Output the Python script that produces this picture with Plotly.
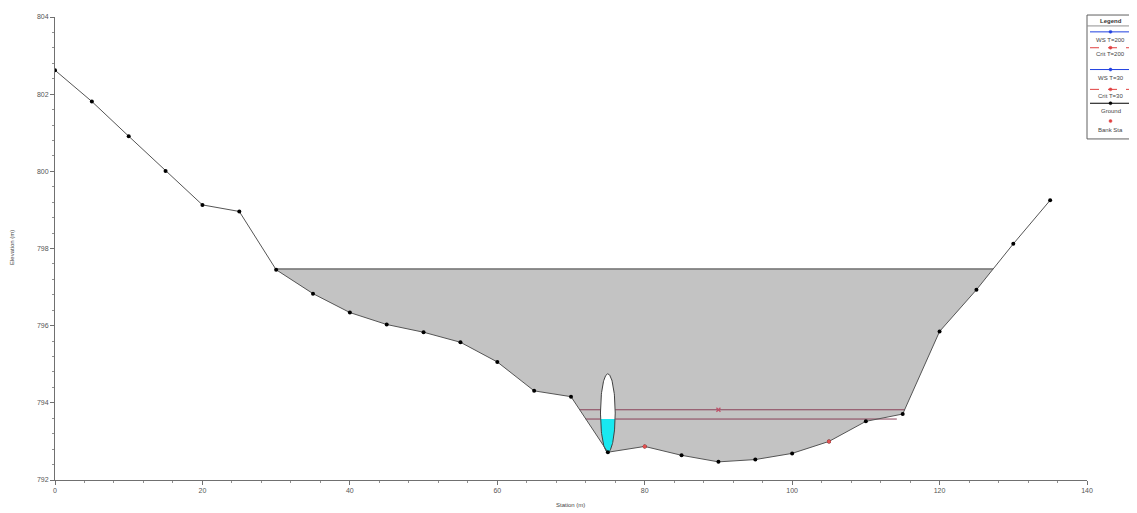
import numpy as np
import plotly.graph_objects as go

# ---------------- data ----------------
station = [0, 5, 10, 15, 20, 25, 30, 35, 40, 45, 50, 55, 60, 65, 70,
           75, 80, 85, 90, 95, 100, 105, 110, 115, 120, 125, 130, 135]
ground = [802.62, 801.81, 800.91, 800.01, 799.13, 798.96, 797.45, 796.83,
          796.34, 796.03, 795.83, 795.57, 795.06, 794.31, 794.16, 792.72,
          792.87, 792.64, 792.47, 792.53, 792.69, 793.00, 793.52, 793.71,
          795.85, 796.93, 798.12, 799.25]
bank_stations = [80, 105]

ws_t200 = 797.47

line_names = ["Crit T=200", "WS T=30"]
line_elev = [793.82, 793.58]
line_left = [71.2, 72.0]
line_right = [115.3, 114.2]
crit_marker_station = [90]
crit_marker_elev = [793.82]

# lens-shaped obstruction at the thalweg
lens_station = 75.0
lens_half_width = 1.0
lens_top = 794.75
lens_bottom = 792.72
lens_water = 793.58

x_ticks = [0, 20, 40, 60, 80, 100, 120, 140]
y_ticks = [792, 794, 796, 798, 800, 802, 804]

legend_names = ["WS T=200", "Crit T=200", "WS T=30", "Crit T=30", "Ground", "Bank Sta"]

# ---------------- figure ----------------
OFF = 8  # page body margin
W, H = 1137 - OFF, 513 - OFF
L, T = 55 - OFF, 13 - OFF
PW, PH = 1032, 467
R, B = W - L - PW, H - T - PH


def px(xp):
    return (xp - OFF - L) / PW


def py(yp):
    return (T + PH - (yp - OFF)) / PH


fig = go.Figure()

# wetted area under WS T=200
gx = np.array(station, float)
gy = np.array(ground, float)
poly_x, poly_y = [], []
for i in range(len(gx) - 1):
    x0, y0, x1, y1 = gx[i], gy[i], gx[i + 1], gy[i + 1]
    if y0 <= ws_t200:
        poly_x.append(x0); poly_y.append(y0)
    if (y0 - ws_t200) * (y1 - ws_t200) < 0:
        xc = x0 + (ws_t200 - y0) * (x1 - x0) / (y1 - y0)
        poly_x.append(xc); poly_y.append(ws_t200)
if gy[-1] <= ws_t200:
    poly_x.append(gx[-1]); poly_y.append(gy[-1])

fig.add_trace(go.Scatter(x=poly_x, y=poly_y, fill="toself", mode="none",
                         fillcolor="#c3c3c3", hoverinfo="skip", showlegend=False))
fig.add_trace(go.Scatter(x=[poly_x[0], poly_x[-1]], y=[ws_t200, ws_t200], mode="lines",
                         line=dict(color="#3a3a3a", width=1), showlegend=False,
                         name="WS T=200"))

# lower profile lines
for nm, el, xl, xr in zip(line_names, line_elev, line_left, line_right):
    fig.add_trace(go.Scatter(x=[xl, xr], y=[el, el], mode="lines",
                             line=dict(color="#8a4058", width=1), name=nm,
                             showlegend=False))
fig.add_trace(go.Scatter(x=crit_marker_station, y=crit_marker_elev, mode="markers",
                         marker=dict(color="#d06070", size=4, symbol="x-thin",
                                     line=dict(color="#c05068", width=1.2)),
                         showlegend=False))

# lens obstruction
cy = (lens_top + lens_bottom) / 2
b = (lens_top - lens_bottom) / 2
t = np.linspace(0, 2 * np.pi, 120)
ex = lens_station + lens_half_width * np.cos(t)
ey = cy + b * np.sin(t)
fig.add_trace(go.Scatter(x=ex, y=ey, fill="toself", fillcolor="white", mode="none",
                         hoverinfo="skip", showlegend=False))
t0 = np.arcsin((lens_water - cy) / b)
tw = np.linspace(np.pi - t0, 2 * np.pi + t0, 80)
fig.add_trace(go.Scatter(x=lens_station + lens_half_width * np.cos(tw),
                         y=cy + b * np.sin(tw), fill="toself", fillcolor="#18e8f0",
                         mode="none", hoverinfo="skip", showlegend=False))
fig.add_trace(go.Scatter(x=ex, y=ey, mode="lines", line=dict(color="#404040", width=1),
                         hoverinfo="skip", showlegend=False))

# ground
fig.add_trace(go.Scatter(x=station, y=ground, mode="lines+markers",
                         line=dict(color="#555555", width=1),
                         marker=dict(color="black", size=4, symbol="circle"),
                         name="Ground", showlegend=False))
fig.add_trace(go.Scatter(x=bank_stations, y=list(np.interp(bank_stations, station, ground)),
                         mode="markers", marker=dict(color="#e05050", size=4),
                         name="Bank Sta", showlegend=False))

# ---------------- custom legend ----------------
shapes = []
annots = []
lx0, lx1 = 1087, 1134
shapes.append(dict(type="rect", xref="paper", yref="paper", x0=px(lx0), x1=px(lx1),
                   y0=py(136), y1=py(11), line=dict(color="#606060", width=1),
                   fillcolor="white", layer="above"))
shapes.append(dict(type="line", xref="paper", yref="paper", x0=px(lx0), x1=px(lx1),
                   y0=py(22), y1=py(22), line=dict(color="#909090", width=1), layer="above"))
annots.append(dict(xref="paper", yref="paper", x=px((lx0 + lx1) / 2), y=py(17),
                   text="<b>Legend</b>", showarrow=False,
                   font=dict(size=6, color="#333333"), xanchor="center", yanchor="middle"))
sym_y = [28, 44, 66, 86, 100, 118]
txt_y = [36, 50, 75, 93, 108, 127]
sym_color = ["#2040e0", "#e04040", "#2040e0", "#e04040", "#000000", "#e04040"]
sym_dash = ["solid", "dash", "solid", "dash", "solid", None]
cxm = (lx0 + lx1) / 2
for nm, sy, ty, c, d in zip(legend_names, sym_y, txt_y, sym_color, sym_dash):
    if d is not None:
        shapes.append(dict(type="line", xref="paper", yref="paper", x0=px(lx0 + 3),
                           x1=px(lx1 - 3), y0=py(sy), y1=py(sy),
                           line=dict(color=c, width=1, dash=d), layer="above"))
    shapes.append(dict(type="circle", xref="paper", yref="paper", x0=px(cxm - 1.5),
                       x1=px(cxm + 1.5), y0=py(sy + 1.5), y1=py(sy - 1.5),
                       fillcolor=c, line=dict(color=c, width=0.5), layer="above"))
    annots.append(dict(xref="paper", yref="paper", x=px(cxm), y=py(ty), text=nm,
                       showarrow=False, font=dict(size=6, color="#444444"),
                       xanchor="center", yanchor="middle"))

# axis titles
annots.append(dict(xref="paper", yref="paper", x=px(570), y=py(505), text="Station (m)",
                   showarrow=False, font=dict(size=6, color="#444444"),
                   xanchor="center", yanchor="middle"))
annots.append(dict(xref="paper", yref="paper", x=px(12), y=py(246), text="Elevation (m)",
                   showarrow=False, textangle=-90, font=dict(size=6, color="#444444"),
                   xanchor="center", yanchor="middle"))

fig.update_layout(
    width=W, height=H,
    margin=dict(l=L, r=R, t=T, b=B),
    paper_bgcolor="white", plot_bgcolor="white",
    font=dict(family="Liberation Sans, Arial, sans-serif", size=7, color="#555555"),
    shapes=shapes, annotations=annots,
    showlegend=False,
)
fig.update_xaxes(range=[0, 140], tickvals=x_ticks, ticktext=[str(v) for v in x_ticks],
                 showgrid=False, zeroline=False, showline=True, linecolor="#707070",
                 linewidth=1, ticks="outside", ticklen=4, tickcolor="#707070",
                 tickfont=dict(size=7, color="#555555"),
                 minor=dict(dtick=4, tick0=0, ticks="outside", ticklen=2, tickcolor="#909090"))
fig.update_yaxes(range=[792, 804], tickvals=y_ticks, ticktext=[str(v) for v in y_ticks],
                 showgrid=False, zeroline=False, showline=True, linecolor="#707070",
                 linewidth=1, ticks="outside", ticklen=4, tickcolor="#707070",
                 tickfont=dict(size=7, color="#555555"),
                 minor=dict(dtick=0.4, tick0=792, ticks="outside", ticklen=2, tickcolor="#909090"))

fig.write_html("out.html")
